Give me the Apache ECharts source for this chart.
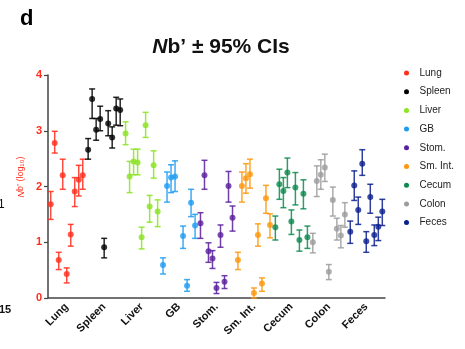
<!DOCTYPE html>
<html>
<head>
<meta charset="utf-8">
<script src="https://cdn.jsdelivr.net/npm/echarts@6/dist/echarts.min.js"></script>
<style>
  html, body { margin: 0; padding: 0; background: #fff; }
  #chart { width: 465px; height: 349px; }
</style>
</head>
<body>
<div id="chart"></div>
<script>
// 分组
const groups = ['Lung', 'Spleen', 'Liver', 'GB', 'Stom.', 'Sm. Int.', 'Cecum', 'Colon', 'Feces']
const colors = ['#ff2d1c', '#000000', '#8ae41e', '#1e9cf2', '#5a1f9c', '#ff9508', '#0c8b4d', '#9c9c9c', '#0b1f8e']
const yTicks = [0, 1, 2, 3, 4]

// 每组 9 个值: [Nb', 下限, 上限]
const lung = [[1.68, 1.41, 1.91], [2.78, 2.60, 2.99], [0.68, 0.51, 0.82], [2.20, 1.95, 2.49], [0.43, 0.27, 0.54], [1.14, 0.93, 1.32], [1.91, 1.64, 2.16], [2.12, 1.83, 2.38], [2.20, 1.95, 2.49]]
const spleen = [[2.66, 2.49, 2.86], [3.57, 3.22, 3.75], [3.02, 2.83, 3.22], [3.21, 3.00, 3.44], [0.91, 0.72, 1.07], [3.13, 2.91, 3.36], [2.88, 2.69, 3.07], [3.40, 3.10, 3.60], [3.37, 3.09, 3.57]]
const liver = [[2.95, 2.75, 3.16], [2.18, 1.89, 2.45], [2.45, 2.21, 2.67], [2.43, 2.21, 2.67], [1.09, 0.88, 1.27], [3.10, 2.88, 3.33], [1.64, 1.36, 1.84], [2.38, 2.15, 2.64], [1.55, 1.28, 1.76]]
const gb = [[0.59, 0.43, 0.72], [2.01, 1.72, 2.26], [2.16, 1.89, 2.39], [2.18, 1.91, 2.46], null, [1.11, 0.89, 1.29], [0.22, 0.12, 0.33], [1.71, 1.46, 1.95], [1.30, 1.07, 1.50]]
const stom = [[1.34, 1.07, 1.53], [2.20, 1.95, 2.47], [0.84, 0.64, 0.99], [0.71, 0.53, 0.85], [0.18, 0.08, 0.28], [1.13, 0.91, 1.31], [0.29, 0.17, 0.40], [2.01, 1.72, 2.27], [1.44, 1.20, 1.65]]
const smInt = [[0.68, 0.51, 0.82], [2.01, 1.72, 2.26], [2.15, 1.88, 2.41], [2.22, 1.97, 2.49], [0.09, 0.0, 0.18], [1.13, 0.93, 1.33], [0.26, 0.12, 0.36], [1.79, 1.52, 2.02], [1.31, 1.08, 1.51]]
const cecum = [[1.27, 1.04, 1.47], [2.04, 1.77, 2.31], [1.92, 1.62, 2.16], [2.25, 1.98, 2.51], [1.37, 1.14, 1.58], [1.98, 1.67, 2.25], [1.04, 0.84, 1.22], [1.87, 1.60, 2.12], [1.09, 0.89, 1.29]]
const colon = [[1.00, 0.81, 1.16], [2.10, 1.82, 2.37], [2.21, 1.95, 2.48], [2.34, 2.09, 2.58], [0.47, 0.33, 0.60], [1.76, 1.47, 1.99], [1.24, 1.04, 1.43], [1.12, 0.90, 1.30], [1.50, 1.27, 1.71]]
const feces = [[1.19, 0.98, 1.38], [2.02, 1.75, 2.28], [1.58, 1.32, 1.81], [2.41, 2.20, 2.66], [1.02, 0.82, 1.19], [1.81, 1.52, 2.04], [1.13, 0.94, 1.31], [1.28, 1.03, 1.45], [1.55, 1.30, 1.77]]
const groupData = [lung, spleen, liver, gb, stom, smInt, cecum, colon, feces]

const SLOT = 0.107 // 组内点间距（x 轴单位）
const FONT = 'Liberation Sans, Arial, Helvetica, sans-serif'
const RED = '#ff2d1c'

// 组内位置
const pos = (g, k) => g + 0.5 + (k - 4) * SLOT

const series = []
groupData.forEach((rows, g) => {
  const pts = []
  const bars = []
  rows.forEach((r, k) => {
    if (!r) return
    pts.push([pos(g, k), r[0]])
    bars.push([pos(g, k), r[1], r[2]])
  })
  // 误差线
  series.push({
    name: groups[g],
    type: 'custom',
    xAxisIndex: 1,
    data: bars,
    encode: { x: 0, y: [1, 2] },
    itemStyle: { color: colors[g] },
    z: 2,
    renderItem(params, api) {
      const x = api.value(0)
      const lo = api.coord([x, api.value(1)])
      const hi = api.coord([x, api.value(2)])
      const w = 3
      const style = { stroke: colors[g], lineWidth: 1.5, opacity: 0.85 }
      return {
        type: 'group',
        children: [
          { type: 'line', shape: { x1: lo[0], y1: lo[1], x2: hi[0], y2: hi[1] }, style },
          { type: 'line', shape: { x1: hi[0] - w, y1: hi[1], x2: hi[0] + w, y2: hi[1] }, style },
          { type: 'line', shape: { x1: lo[0] - w, y1: lo[1], x2: lo[0] + w, y2: lo[1] }, style },
        ],
      }
    },
  })
  // 点
  series.push({
    name: groups[g],
    type: 'scatter',
    xAxisIndex: 1,
    data: pts,
    symbol: 'circle',
    symbolSize: 6,
    itemStyle: { color: colors[g] },
    z: 3,
  })
})

const chart = echarts.init(document.getElementById('chart'))
chart.setOption({
  animation: false,
  textStyle: { fontFamily: FONT },
  title: {
    text: '{i|N}b\u2019 \u00b1 95% CIs',
    left: 216,
    top: 32,
    textAlign: 'center',
    textStyle: {
      fontSize: 21, fontWeight: 'bold', color: '#111', fontFamily: FONT,
      rich: { i: { fontSize: 21, fontWeight: 'bold', fontStyle: 'italic', color: '#111', fontFamily: FONT } },
    },
  },
  legend: {
    orient: 'vertical',
    left: 399,
    top: 63,
    itemWidth: 16,
    itemHeight: 5,
    itemGap: 8.7,
    icon: 'circle',
    data: groups.map((n, i) => ({ name: n, itemStyle: { color: colors[i] } })),
    textStyle: { fontSize: 10, color: '#222', fontFamily: FONT },
  },
  grid: { left: 48, right: 80, top: 75, bottom: 51, containLabel: false },
  xAxis: [
    {
      type: 'category',
      data: groups,
      boundaryGap: true,
      axisLine: { lineStyle: { color: '#444', width: 1.5 } },
      axisTick: { alignWithLabel: true, length: 4, lineStyle: { color: '#444', width: 1.2 } },
      axisLabel: { rotate: 45, margin: 7, fontSize: 11, fontWeight: 'bold', color: '#111', fontFamily: FONT },
    },
    { type: 'value', min: 0, max: 9, show: false },
  ],
  yAxis: {
    type: 'value',
    min: 0,
    max: 4,
    interval: 1,
    splitLine: { show: false },
    axisLine: { show: true, lineStyle: { color: '#444', width: 1.5 } },
    axisTick: { show: true, length: 4, lineStyle: { color: '#444', width: 1.2 } },
    axisLabel: {
      margin: 6, fontSize: 11, fontWeight: 'bold', color: RED, fontFamily: FONT,
      formatter: v => (yTicks.includes(v) ? String(v) : ''),
    },
  },
  graphic: [
    { type: 'text', left: 20, top: 8, style: { text: 'd', fontSize: 22, fontWeight: 'bold', fill: '#000', fontFamily: FONT } },
    { type: 'text', left: -2, top: 199, style: { text: '1', fontSize: 12, fill: '#111', fontFamily: FONT } },
    { type: 'text', left: -1, top: 304, style: { text: '15', fontSize: 11, fontWeight: 'bold', fill: '#111', fontFamily: FONT } },
    {
      // y 轴名称
      type: 'text',
      x: 21,
      y: 177,
      rotation: Math.PI / 2,
      style: {
        text: '{i|N}b\u2019 (log\u2081\u2080)',
        align: 'center',
        verticalAlign: 'middle',
        fontSize: 9,
        fill: RED,
        fontFamily: FONT,
        rich: { i: { fontSize: 9, fontStyle: 'italic', fill: RED, fontFamily: FONT } },
      },
    },
  ],
  series,
})
</script>
</body>
</html>
